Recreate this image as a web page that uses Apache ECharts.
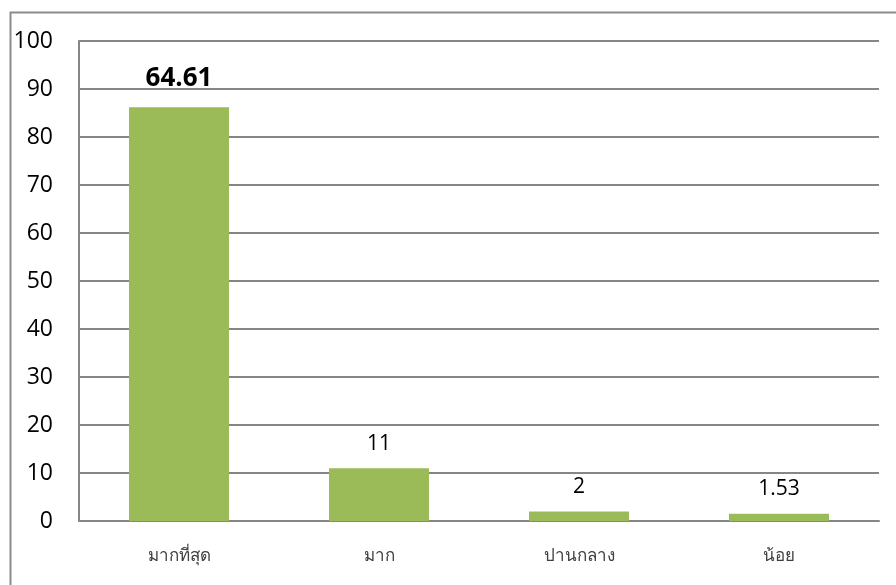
<!DOCTYPE html>
<html><head><meta charset="utf-8">
<script src="https://cdn.jsdelivr.net/npm/echarts@6/dist/echarts.min.js"></script>
<style>html,body{margin:0;padding:0;background:#fff}#c{width:896px;height:585px}</style>
</head><body><div id="c"></div>
<script>
const categories = ['มากที่สุด', 'มาก', 'ปานกลาง', 'น้อย'];
const values = [86.2, 11, 2, 1.53];
const labelTexts = ['64.61', '11', '2', '1.53'];
const yTicks = [0, 10, 20, 30, 40, 50, 60, 70, 80, 90, 100];

const chart = echarts.init(document.getElementById('c'));
const font = '"Open Sans", "Noto Sans", sans-serif';
chart.setOption({
  animation: false,
  graphic: [{
    type: 'rect', left: 8, top: 10, shape: { x: 0, y: 0, width: 1000, height: 1000 },
    style: { fill: 'none', stroke: '#8c8c8c', lineWidth: 2 }, z: -1
  }],
  grid: { left: 79, right: 17, top: 41, bottom: 64 },
  xAxis: {
    type: 'category', data: categories,
    axisLine: { lineStyle: { color: '#868686', width: 2 } },
    axisTick: { show: false },
    axisLabel: { color: '#404040', fontSize: 17, margin: 27, fontFamily: font }
  },
  yAxis: {
    type: 'value', min: yTicks[0], max: yTicks[yTicks.length - 1], interval: 10,
    axisLine: { show: true, lineStyle: { color: '#868686', width: 2 } },
    axisTick: { show: false },
    splitLine: { lineStyle: { color: '#868686', width: 2 } },
    axisLabel: { color: '#000', fontSize: 23, margin: 26, fontFamily: font }
  },
  series: [{
    type: 'bar', barWidth: '50%',
    itemStyle: { color: '#9BBB59' },
    data: values.map((v, i) => ({
      value: v,
      label: i === 0 ? { fontSize: 26, fontWeight: 'bold', distance: 16 } : {}
    })),
    label: {
      show: true, position: 'top', distance: 14, color: '#000', fontSize: 21, fontFamily: font,
      formatter: p => labelTexts[p.dataIndex]
    }
  }]
});
</script></body></html>
